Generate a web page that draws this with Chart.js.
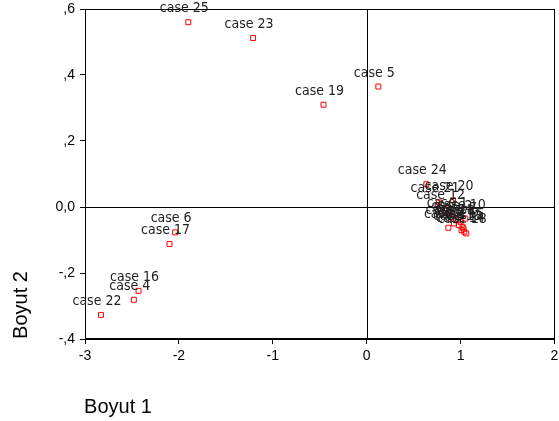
<!DOCTYPE html>
<html>
<head>
<meta charset="utf-8">
<script src="https://cdn.jsdelivr.net/npm/chart.js@4"></script>
<style>
  html, body { margin: 0; padding: 0; background: #fff; }
  canvas { display: block; }
</style>
</head>
<body>
<canvas id="scatter" width="559" height="421"></canvas>
<script>
// Boyut 1 / Boyut 2 coordinates per case
const caseNames = ["case 1", "case 2", "case 3", "case 4", "case 5", "case 6", "case 7", "case 8",
    "case 9", "case 10", "case 11", "case 12", "case 13", "case 14", "case 15", "case 16",
    "case 17", "case 18", "case 19", "case 20", "case 21", "case 22", "case 23", "case 24", "case 25"];
const dim1 = [0.90, 0.95, 0.87, -2.48, 0.124, -2.04, 1.00, 0.98,
    1.02, 1.05, 0.93, 0.83, 1.01, 1.04, 1.03, -2.43,
    -2.10, 1.06, -0.46, 0.92, 0.77, -2.83, -1.21, 0.635, -1.90];
const dim2 = [-0.03, -0.04, -0.063, -0.281, 0.365, -0.077, -0.045, -0.055,
    -0.06, -0.035, -0.05, -0.005, -0.07, -0.075, -0.065, -0.254,
    -0.112, -0.08, 0.31, 0.02, 0.014, -0.327, 0.512, 0.069, 0.56];
const xTicks = [-3, -2, -1, 0, 1, 2];
const yTicks = [-0.4, -0.2, 0, 0.2, 0.4, 0.6];

const points = caseNames.map((n, i) => ({ x: dim1[i], y: dim2[i] }));

// SPSS style number format: ,6  -,2  0,0
function fmtY(v) {
    if (Math.abs(v) < 1e-9) return "0,0";
    let s = v.toFixed(1).replace(".", ",");
    return s.replace(/^(-?)0,/, "$1,");
}

const framePlugin = {
    id: "frame",
    beforeDatasetsDraw(chart) {
        const { ctx, chartArea: a, scales } = chart;
        ctx.save();
        ctx.strokeStyle = "#000";
        ctx.lineWidth = 1;
        ctx.strokeRect(Math.round(a.left) + 0.5, Math.round(a.top) + 0.5,
            Math.round(a.right - a.left) - 1, Math.round(a.bottom - a.top) - 1);
        const x0 = Math.round(scales.x.getPixelForValue(0)) + 0.5;
        const y0 = Math.round(scales.y.getPixelForValue(0)) + 0.5;
        ctx.beginPath();
        ctx.moveTo(x0, a.top); ctx.lineTo(x0, a.bottom);
        ctx.moveTo(a.left, y0); ctx.lineTo(a.right, y0);
        ctx.stroke();
        ctx.restore();
    }
};

const labelPlugin = {
    id: "caseLabels",
    afterDatasetsDraw(chart) {
        const { ctx } = chart;
        const meta = chart.getDatasetMeta(0);
        ctx.save();
        ctx.font = '14px "Liberation Sans Narrow", "Arial Narrow", "DejaVu Sans Condensed", sans-serif';
        ctx.fillStyle = "#222";
        ctx.textAlign = "center";
        ctx.textBaseline = "alphabetic";
        meta.data.forEach((pt, i) => {
            ctx.fillText(caseNames[i], pt.x - 4, pt.y - 10);
        });
        // axis titles
        ctx.font = '20px Arial, "Liberation Sans", sans-serif';
        ctx.fillStyle = "#000";
        ctx.textBaseline = "middle";
        ctx.fillText("Boyut 1", 118, 407);
        ctx.translate(21, 305);
        ctx.rotate(-Math.PI / 2);
        ctx.fillText("Boyut 2", 0, 0);
        ctx.restore();
    }
};

const tickFont = { family: 'Arial, "Liberation Sans", sans-serif', size: 14 };

new Chart(document.getElementById("scatter").getContext("2d"), {
    type: "scatter",
    data: {
        datasets: [{
            data: points,
            pointStyle: "rect",
            pointRadius: 3.5,
            pointHoverRadius: 3.5,
            borderColor: "#ff0000",
            backgroundColor: "rgba(0,0,0,0)",
            pointBorderWidth: 1
        }]
    },
    options: {
        responsive: false,
        animation: false,
        devicePixelRatio: 1,
        layout: { padding: { left: 0, top: 9, right: 3, bottom: 0 } },
        plugins: { legend: { display: false }, tooltip: { enabled: false } },
        scales: {
            x: {
                type: "linear",
                min: xTicks[0],
                max: xTicks[xTicks.length - 1],
                afterBuildTicks: s => { s.ticks = xTicks.map(v => ({ value: v })); },
                afterFit: s => { s.height = 82; s.paddingLeft = 0; s.paddingRight = 0; },
                ticks: { color: "#000", font: tickFont, padding: 4, maxRotation: 0,
                    callback: v => String(v) },
                grid: { drawOnChartArea: false, drawTicks: true, tickLength: 5, color: "#000" },
                border: { display: true, color: "#000" }
            },
            y: {
                type: "linear",
                min: yTicks[0],
                max: yTicks[yTicks.length - 1],
                afterBuildTicks: s => { s.ticks = yTicks.map(v => ({ value: v })); },
                afterFit: s => { s.width = 85; s.paddingTop = 0; s.paddingBottom = 0; },
                ticks: { color: "#000", font: tickFont, padding: 5, callback: v => fmtY(v) },
                grid: { drawOnChartArea: false, drawTicks: true, tickLength: 5, color: "#000" },
                border: { display: true, color: "#000" }
            }
        }
    },
    plugins: [framePlugin, labelPlugin]
});
</script>
</body>
</html>
